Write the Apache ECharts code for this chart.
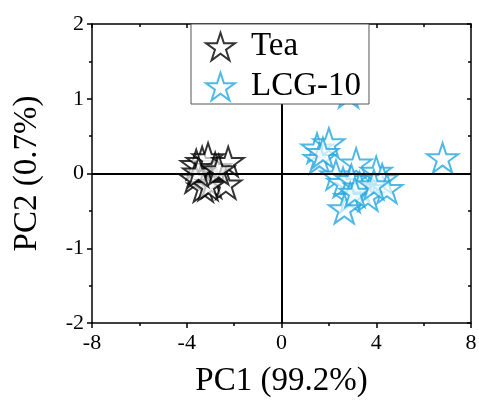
<!DOCTYPE html>
<html>
<head>
<meta charset="utf-8">
<script src="https://cdn.jsdelivr.net/npm/echarts@6/dist/echarts.min.js"></script>
<style>html,body{margin:0;padding:0;background:#fff}#c{width:479px;height:400px}</style>
</head>
<body>
<div id="c"></div>
<script>
const seriesNames = ['Tea', 'LCG-10'];
const teaPC1 = [-3.6, -3.35, -3.1, -2.8, -2.25, -3.65, -3.3, -2.95, -2.35, -3.1, -3.5, -2.65];
const teaPC2 = [0.12, 0.16, 0.21, 0.08, 0.16, -0.06, -0.18, -0.13, -0.14, -0.16, 0.02, 0.05];
const lcgPC1 = [2.83, 1.5, 2.0, 1.6, 1.75, 3.15, 4.0, 2.3, 2.6, 2.95, 3.3, 3.65, 4.25, 4.45, 2.9, 2.65, 3.1, 3.9, 6.8];
const lcgPC2 = [1.08, 0.34, 0.41, 0.2, 0.28, 0.14, 0.03, -0.02, -0.12, -0.08, -0.18, -0.3, -0.07, -0.2, -0.32, -0.47, -0.25, -0.15, 0.21];
const xTicks = [-8, -4, 0, 4, 8];
const yTicks = [-2, -1, 0, 1, 2];

const STAR = 'path://M50 0 L61.23 34.55 L97.55 34.55 L68.17 55.9 L79.39 90.45 L50 69.1 L20.61 90.45 L31.83 55.9 L2.45 34.55 L38.77 34.55 Z';
const FONT = 'Liberation Serif';
const BLUE = '#22a8e0';

function pairs(a, b) { return a.map((v, i) => [v, b[i]]); }

const chart = echarts.init(document.getElementById('c'), null, {renderer: 'canvas'});

function axisX(pos) {
  const bottom = pos === 'bottom';
  return {
    type: 'value', position: pos, min: xTicks[0], max: xTicks[xTicks.length - 1], interval: 4,
    name: bottom ? 'PC1 (99.2%)' : '', nameLocation: 'middle', nameGap: 42,
    nameTextStyle: {fontFamily: FONT, fontSize: 33, color: '#000'},
    axisLine: {show: true, onZero: false, lineStyle: {color: '#000', width: 1.5}},
    axisTick: {show: true, inside: !bottom, length: bottom ? 5 : 4, lineStyle: {color: '#000', width: 1.5}},
    minorTick: {show: true, splitNumber: 2, length: 3, lineStyle: {color: '#000', width: 1.5}},
    axisLabel: {show: bottom, fontFamily: FONT, fontSize: 22, color: '#000', margin: 9},
    splitLine: {show: false}
  };
}
function axisY(pos) {
  const left = pos === 'left';
  return {
    type: 'value', position: pos, min: yTicks[0], max: yTicks[yTicks.length - 1], interval: 1,
    name: left ? 'PC2 (0.7%)' : '', nameLocation: 'middle', nameGap: 48, nameRotate: 90,
    nameTextStyle: {fontFamily: FONT, fontSize: 33, color: '#000'},
    axisLine: {show: true, onZero: false, lineStyle: {color: '#000', width: 1.5}},
    axisTick: {show: true, inside: !left, length: left ? 5 : 4, lineStyle: {color: '#000', width: 1.5}},
    minorTick: {show: true, splitNumber: 2, length: 3, lineStyle: {color: '#000', width: 1.5}},
    axisLabel: {show: left, fontFamily: FONT, fontSize: 22, color: '#000', margin: 8},
    splitLine: {show: false}
  };
}

chart.setOption({
  animation: false,
  backgroundColor: '#fff',
  grid: {left: 92, right: 8, top: 24, bottom: 77, containLabel: false, outerBoundsMode: 'none'},
  xAxis: [axisX('bottom'), axisX('top')],
  yAxis: [axisY('left'), axisY('right')],
  legend: {
    data: seriesNames.map(n => ({name: n, icon: STAR})),
    orient: 'vertical', left: 191, top: 24,
    padding: [6, 8, 1, 14],
    itemWidth: 29, itemHeight: 28, itemGap: 7,
    backgroundColor: '#fff', borderColor: '#555', borderWidth: 1,
    textStyle: {fontFamily: FONT, fontSize: 33, color: '#000', lineHeight: 28, padding: [0, 0, 0, 11]},
    z: 10
  },
  series: [
    {
      name: 'zero', type: 'line', data: [], silent: true, z: 3,
      markLine: {
        silent: true, symbol: 'none', animation: false, label: {show: false},
        lineStyle: {color: '#000', width: 2, type: 'solid'},
        data: [{xAxis: 0}, {yAxis: 0}]
      }
    },
    {
      name: seriesNames[0], type: 'scatter', data: pairs(teaPC1, teaPC2),
      symbol: STAR, symbolSize: 31, symbolKeepAspect: true, z: 2,
      itemStyle: {color: 'rgba(255,255,255,0.85)', borderColor: '#000', borderWidth: 2}
    },
    {
      name: seriesNames[1], type: 'scatter', data: pairs(lcgPC1, lcgPC2),
      symbol: STAR, symbolSize: 31, symbolKeepAspect: true, z: 2,
      itemStyle: {color: 'rgba(255,255,255,0.85)', borderColor: BLUE, borderWidth: 2}
    }
  ]
});
</script>
</body>
</html>
